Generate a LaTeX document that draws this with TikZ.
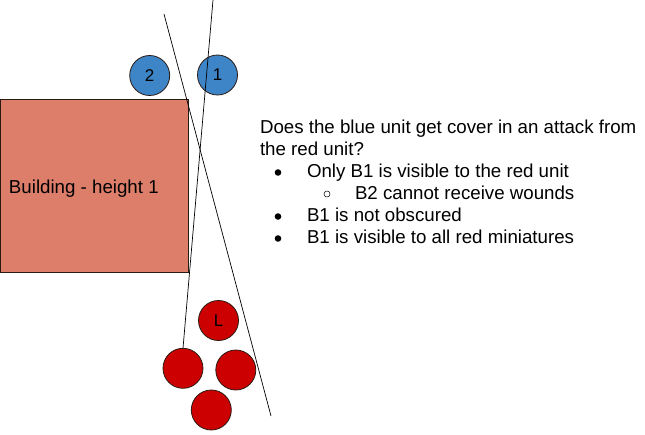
\documentclass[tikz,border=0pt]{standalone}
\usepackage{fontspec}
\setmainfont{Liberation Sans}
\definecolor{bldg}{HTML}{DD7E6B}
\definecolor{blueunit}{HTML}{3D85C6}
\definecolor{redunit}{HTML}{CC0000}
\definecolor{edge}{HTML}{2B1A14}
\begin{document}
\begin{tikzpicture}[x=1pt,y=-1pt,
  every node/.style={inner sep=0pt,outer sep=0pt},
  txt/.style={anchor=base west,font=\fontsize{18.7}{22}\selectfont},
  mini/.style={circle,draw=edge,line width=0.8pt,minimum size=40pt,font=\fontsize{17}{20}\selectfont},
  bluemini/.style={mini,fill=blueunit},
  redmini/.style={mini,fill=redunit},
  sight/.style={draw=black,line width=0.7pt},
  dotbullet/.style={circle,fill=black,minimum size=6.6pt},
  ringbullet/.style={circle,draw=black,line width=0.5pt,minimum size=6pt}]
\useasboundingbox[fill=white] (0,0) rectangle (645,434);
% building
\node[draw=edge,fill=bldg,line width=0.8pt,minimum width=188pt,minimum height=173pt,anchor=north west] (bldg) at (0.5,99.3) {};
\node[txt] (bldgtxt) at (9,193) {Building - height 1};
% blue unit
\node[bluemini] (b2) at (149.7,75.5) {2};
\node[bluemini] (b1) at (217.5,75) {1};
% red unit
\node[redmini] (rl) at (218.5,320.5) {L};
\node[redmini] (r1) at (183,368.3) {};
\node[redmini] (r2) at (235.8,370) {};
\node[redmini] (r3) at (211.3,410) {};
% lines of sight
\coordinate (s1a) at (164,14);
\coordinate (s1b) at (271,416);
\coordinate (s2a) at (213,0);
\draw[sight] (s1a) -- (s1b);
\draw[sight] (s2a) -- (r1.north);
% text
\node[txt] (q1) at (260,133) {Does the blue unit get cover in an attack from};
\node[txt] (q2) at (260,155) {the red unit?};
\node[dotbullet] (d1) at (278,172.5) {};
\node[txt] (t1) at (307,177) {Only B1 is visible to the red unit};
\node[ringbullet] (c1) at (327,194) {};
\node[txt] (t2) at (355,199) {B2 cannot receive wounds};
\node[dotbullet] (d2) at (278,216.5) {};
\node[txt] (t3) at (307,221) {B1 is not obscured};
\node[dotbullet] (d3) at (278,238.5) {};
\node[txt] (t4) at (307,243) {B1 is visible to all red miniatures};
\end{tikzpicture}
\end{document}
